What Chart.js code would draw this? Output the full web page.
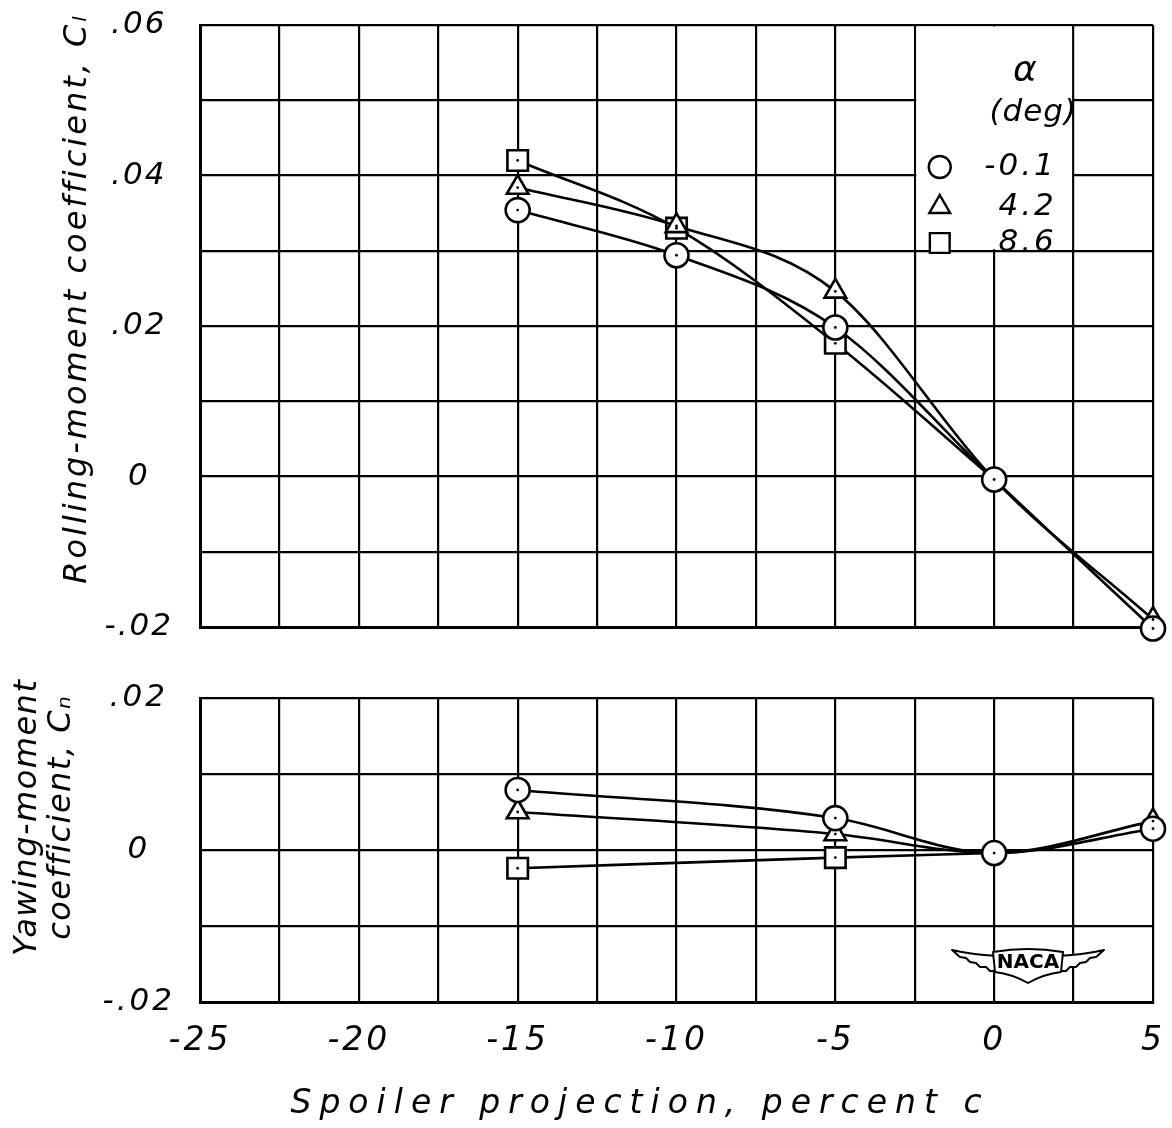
<!DOCTYPE html>
<html>
<head>
<meta charset="utf-8">
<script src="https://cdn.jsdelivr.net/npm/chart.js@4.4.1/dist/chart.umd.min.js"></script>
<style>
  html, body { margin: 0; padding: 0; background: #fff; }
  #wrap { position: relative; width: 1172px; height: 1128px; overflow: hidden; }
  .pane { position: absolute; left: 0; }
</style>
</head>
<body>
<div id="wrap">
  <div class="pane" style="top:0;width:1172px;height:660px"><canvas id="clChart" width="1172" height="660"></canvas></div>
  <div class="pane" style="top:660px;width:1172px;height:468px"><canvas id="cnChart" width="1172" height="468"></canvas></div>
</div>
<script>
// ---------------- DATA ----------------
const spoilerCl      = [-15, -10, -5, 0, 5];
const clAlphaNeg01   = [0.0354, 0.0294, 0.0198, -0.0004, -0.0202];
const clAlpha42      = [0.0384, 0.0333, 0.0246, -0.0004, -0.0190];
const spoilerCl86    = [-15, -10, -5, 0];
const clAlpha86      = [0.0420, 0.0330, 0.0177, -0.0004];

const spoilerCn      = [-15, -5, 0, 5];
const cnAlphaNeg01   = [0.0079, 0.0042, -0.0004, 0.0028];
const cnAlpha42      = [0.0050, 0.0021, -0.0004, 0.0038];
const spoilerCn86    = [-15, -5, 0];
const cnAlpha86      = [-0.0024, -0.0010, -0.0004];

const alphaLabels    = ['-0.1', '4.2', '8.6'];
const markerStyles   = ['circle', 'triangle', 'rect'];

const xTickValues    = [-25, -20, -15, -10, -5, 0, 5];
const xTickLabels    = ['-25', '-20', '-15', '-10', '-5', '0', '5'];
const clTickValues   = [-0.02, 0, 0.02, 0.04, 0.06];
const clTickLabels   = ['-.02', '0', '.02', '.04', '.06'];
const cnTickValues   = [-0.02, 0, 0.02];
const cnTickLabels   = ['-.02', '0', '.02'];

const xTitle         = 'Spoiler projection, percent c';
const clTitle        = 'Rolling-moment coefficient, C\u2097';
const cnTitle        = ['Yawing-moment', 'coefficient, C\u2099'];
const legendHeading  = ['\u03B1', '(deg)'];
const logoText       = 'NACA';

// ---------------- HELPERS ----------------
const INK = '#000';
const FAMILY = '"DejaVu Sans", "Liberation Sans", sans-serif';
Chart.defaults.font.family = FAMILY;
Chart.defaults.color = INK;

function pts(xs, ys) { return xs.map((x, i) => ({ x: x, y: ys[i] })); }
function tickLabel(values, labels) {
  return v => {
    for (let i = 0; i < values.length; i++) if (Math.abs(v - values[i]) < 1e-9) return labels[i];
    return '';
  };
}
const markerRadius = { circle: 12, triangle: 12.5, rect: 14.5 };

function makeSets(seriesList) {
  const first = seriesList[0].data;
  return seriesList.map((s, idx) => {
    const base = markerRadius[markerStyles[idx]];
    return {
      label: alphaLabels[idx],
      data: s.data,
      pointStyle: markerStyles[idx],
      pointRadius: c => {
        if (c.datasetIndex === 0 || !c.raw) return base;
        const p = c.raw;
        const hidden = first.some(q => q.x === p.x && Math.abs(q.y - p.y) < 0.0003);
        return hidden ? 0 : base;
      },
      pointHoverRadius: base,
      borderColor: INK,
      borderWidth: 2.6,
      backgroundColor: '#fff',
      pointBackgroundColor: '#fff',
      pointBorderColor: INK,
      pointBorderWidth: 2.6,
      cubicInterpolationMode: 'monotone',
      fill: false,
      clip: false
    };
  });
}

function drawMarker(ctx, style, r, x, y) {
  ctx.save();
  ctx.fillStyle = '#fff';
  ctx.strokeStyle = INK;
  ctx.lineWidth = 2.4;
  if (Chart.helpers && Chart.helpers.drawPoint) {
    Chart.helpers.drawPoint(ctx, { pointStyle: style, radius: r, borderWidth: 2.4, rotation: 0 }, x, y);
  } else {
    ctx.beginPath();
    ctx.arc(x, y, r, 0, Math.PI * 2);
    ctx.fill(); ctx.stroke();
  }
  ctx.restore();
}

function spacedText(ctx, text, x, y, font, spacing, align, rot) {
  ctx.save();
  ctx.translate(x, y);
  if (rot) ctx.rotate(rot);
  ctx.font = font;
  ctx.letterSpacing = spacing + 'px';
  ctx.fillStyle = INK;
  ctx.textAlign = align || 'center';
  ctx.textBaseline = 'middle';
  let dx = 0;
  if ((align || 'center') === 'center') dx = spacing / 2;
  ctx.fillText(text, dx, 0);
  ctx.restore();
}

const spacingPlugin = {
  id: 'spacing',
  beforeDraw(chart, args, opts) { chart.ctx.letterSpacing = (opts.px || 0) + 'px'; },
  afterDraw(chart) { chart.ctx.letterSpacing = '0px'; }
};

const centerDots = {
  id: 'centerDots',
  afterDatasetsDraw(chart) {
    const ctx = chart.ctx;
    ctx.save();
    ctx.fillStyle = INK;
    chart.data.datasets.forEach((d, i) => {
      const meta = chart.getDatasetMeta(i);
      meta.data.forEach(el => {
        if (el.options && el.options.radius > 0) {
          ctx.beginPath(); ctx.arc(el.x, el.y, 1.4, 0, Math.PI * 2); ctx.fill();
        }
      });
    });
    ctx.restore();
  }
};

const axisTitles = {
  id: 'axisTitles',
  afterDraw(chart, args, opts) {
    (opts.items || []).forEach(it => {
      spacedText(chart.ctx, it.text, it.x, it.y, it.font, it.spacing, 'center', it.rot);
    });
  }
};

const alphaLegend = {
  id: 'alphaLegend',
  beforeDatasetsDraw(chart) {
    const { ctx, scales: { x, y } } = chart;
    const l = x.getPixelForValue(-2.5), r = x.getPixelForValue(2.5);
    const t = y.getPixelForValue(0.06), b = y.getPixelForValue(0.03);
    ctx.save();
    ctx.fillStyle = '#fff';
    ctx.fillRect(l + 1.5, t + 1.5, r - l - 3, b - t - 3);
    ctx.restore();
    spacedText(ctx, legendHeading[0], l + 110, t + 47, 'italic 36px ' + FAMILY, 0, 'center');
    spacedText(ctx, legendHeading[1], l + 118, t + 88, 'italic 31px ' + FAMILY, 1, 'center');
    const rows = [142, 182, 218];
    const sizes = [11, 12, 14];
    chart.data.datasets.forEach((d, i) => {
      drawMarker(ctx, d.pointStyle, sizes[i], l + 25, t + rows[i]);
      spacedText(ctx, d.label, l + 142, t + rows[i], 'italic 31px ' + FAMILY, 3, 'right');
    });
  }
};

const nacaLogo = {
  id: 'nacaLogo',
  afterDraw(chart) {
    const ctx = chart.ctx;
    const cx = chart.chartArea.right - 125;
    const cy = chart.chartArea.bottom - 37;
    ctx.save();
    ctx.strokeStyle = INK; ctx.fillStyle = '#fff'; ctx.lineWidth = 2; ctx.lineJoin = 'round';
    [-1, 1].forEach(s => {
      ctx.beginPath();
      ctx.moveTo(cx + s * 28, cy - 9);
      ctx.quadraticCurveTo(cx + s * 55, cy - 10, cx + s * 76, cy - 15);
      ctx.lineTo(cx + s * 68, cy - 8);
      ctx.lineTo(cx + s * 62, cy - 7);
      ctx.lineTo(cx + s * 58, cy - 3);
      ctx.lineTo(cx + s * 52, cy - 2);
      ctx.lineTo(cx + s * 48, cy + 2);
      ctx.lineTo(cx + s * 42, cy + 2);
      ctx.lineTo(cx + s * 38, cy + 6);
      ctx.lineTo(cx + s * 30, cy + 6);
      ctx.closePath();
      ctx.fill(); ctx.stroke();
    });
    ctx.beginPath();
    ctx.moveTo(cx - 35, cy - 13);
    ctx.quadraticCurveTo(cx, cy - 19, cx + 35, cy - 13);
    ctx.lineTo(cx + 33, cy + 7);
    ctx.quadraticCurveTo(cx + 16, cy + 9, cx, cy + 18);
    ctx.quadraticCurveTo(cx - 16, cy + 9, cx - 33, cy + 7);
    ctx.closePath();
    ctx.fill(); ctx.stroke();
    ctx.restore();
    spacedText(ctx, logoText, cx, cy - 2, 'bold 20px ' + FAMILY, 0, 'center');
  }
};

function xScale(showLabels, height) {
  return {
    type: 'linear', min: -25, max: 5,
    ticks: {
      stepSize: 2.5, autoSkip: false, maxRotation: 0, display: showLabels,
      padding: 20, color: INK,
      font: { family: FAMILY, style: 'italic', size: 33 },
      callback: tickLabel(xTickValues, xTickLabels)
    },
    grid: { color: INK, lineWidth: 2.2, drawTicks: false },
    border: { display: true, color: INK, width: 3 },
    afterFit: s => { s.height = height; s.paddingLeft = 0; s.paddingRight = 0; }
  };
}
function yScale(min, max, values, labels) {
  return {
    type: 'linear', min: min, max: max,
    ticks: {
      stepSize: 0.01, autoSkip: false, crossAlign: 'center', padding: 31, color: INK,
      font: { family: FAMILY, style: 'italic', size: 31 },
      callback: tickLabel(values, labels)
    },
    grid: { color: INK, lineWidth: 2.2, drawTicks: false },
    border: { display: true, color: INK, width: 3 },
    afterFit: s => { s.width = 200; s.paddingTop = 0; s.paddingBottom = 0; }
  };
}

// ---------------- TOP CHART (Cl) ----------------
new Chart(document.getElementById('clChart'), {
  type: 'line',
  data: {
    datasets: makeSets([
      { data: pts(spoilerCl, clAlphaNeg01) },
      { data: pts(spoilerCl, clAlpha42) },
      { data: pts(spoilerCl86, clAlpha86) }
    ])
  },
  options: {
    responsive: false, animation: false, events: [],
    layout: { padding: { left: 0, top: 25, right: 19, bottom: 33 } },
    plugins: {
      legend: { display: false }, tooltip: { enabled: false },
      spacing: { px: 2 },
      axisTitles: { items: [
        { text: clTitle, x: 78, y: 300, font: 'italic 32px ' + FAMILY, spacing: 3, rot: -Math.PI / 2 }
      ] }
    },
    scales: {
      x: xScale(false, 0),
      y: yScale(-0.02, 0.06, clTickValues, clTickLabels)
    }
  },
  plugins: [spacingPlugin, alphaLegend, centerDots, axisTitles]
});

// ---------------- BOTTOM CHART (Cn) ----------------
new Chart(document.getElementById('cnChart'), {
  type: 'line',
  data: {
    datasets: makeSets([
      { data: pts(spoilerCn, cnAlphaNeg01) },
      { data: pts(spoilerCn, cnAlpha42) },
      { data: pts(spoilerCn86, cnAlpha86) }
    ])
  },
  options: {
    responsive: false, animation: false, events: [],
    layout: { padding: { left: 0, top: 38, right: 19, bottom: 0 } },
    plugins: {
      legend: { display: false }, tooltip: { enabled: false },
      spacing: { px: 3 },
      axisTitles: { items: [
        { text: cnTitle[0], x: 28, y: 158, font: 'italic 32px ' + FAMILY, spacing: 1.5, rot: -Math.PI / 2 },
        { text: cnTitle[1], x: 62, y: 158, font: 'italic 32px ' + FAMILY, spacing: 1.5, rot: -Math.PI / 2 },
        { text: xTitle, x: 636, y: 444, font: 'italic 33px ' + FAMILY, spacing: 8, rot: 0 }
      ] }
    },
    scales: {
      x: xScale(true, 126),
      y: yScale(-0.02, 0.02, cnTickValues, cnTickLabels)
    }
  },
  plugins: [spacingPlugin, centerDots, axisTitles, nacaLogo]
});
</script>
</body>
</html>
